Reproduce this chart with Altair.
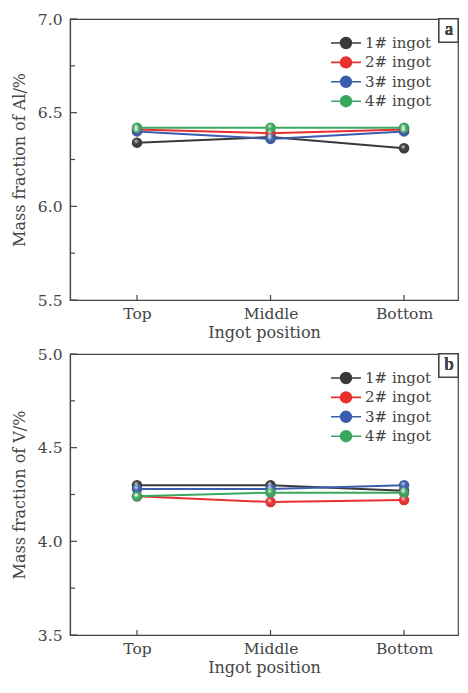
import altair as alt
import pandas as pd

positions = ["Top", "Middle", "Bottom"]
ingots = ["1# ingot", "2# ingot", "3# ingot", "4# ingot"]
colors = ["#3b3838", "#e8302e", "#3a5ead", "#39a85e"]

al_1 = [6.34, 6.37, 6.31]
al_2 = [6.41, 6.39, 6.41]
al_3 = [6.40, 6.36, 6.40]
al_4 = [6.42, 6.42, 6.42]

v_1 = [4.30, 4.30, 4.27]
v_2 = [4.24, 4.21, 4.22]
v_3 = [4.28, 4.28, 4.30]
v_4 = [4.24, 4.26, 4.26]

al_major = [5.5, 6.0, 6.5, 7.0]
al_minor = [5.75, 6.25, 6.75]
v_major = [3.5, 4.0, 4.5, 5.0]
v_minor = [3.75, 4.25, 4.75]

FONT = "DejaVu Serif"
TXT = "#454545"
W, H = 388, 281


def frame(series):
    rows = []
    for name, vals in zip(ingots, series):
        for p, v in zip(positions, vals):
            rows.append({"pos": p, "ingot": name, "val": v})
    return pd.DataFrame(rows)


legend_path = "M-1,0L1,0M-0.36,0A0.36,0.36,0,1,1,0.36,0A0.36,0.36,0,1,1,-0.36,0Z"

shine = alt.RadialGradient(
    gradient="radial", x1=0.38, y1=0.32, r1=0, x2=0.5, y2=0.5, r2=0.55,
    stops=[alt.GradientStop(color="rgba(255,255,255,0.85)", offset=0),
           alt.GradientStop(color="rgba(255,255,255,0)", offset=0.45),
           alt.GradientStop(color="rgba(0,0,0,0.18)", offset=1)])


def panel(df, major, minor, title, tag):
    lo, hi = major[0], major[-1]
    xs = alt.Scale(type="point", padding=0.453, align=0.554)
    ys = alt.Scale(domain=[lo, hi], nice=False, zero=False)
    xax = alt.Axis(title="Ingot position", labelAngle=0, ticks=False,
                   labelPadding=6, titlePadding=3)
    yax = alt.Axis(title=title, values=major, ticks=False, labelPadding=8,
                   format=".1f", titlePadding=10)
    x = alt.X("pos:N", sort=positions, scale=xs, axis=xax)
    y = alt.Y("val:Q", scale=ys, axis=yax)
    color = alt.Color("ingot:N", sort=ingots,
                      scale=alt.Scale(domain=ingots, range=colors),
                      legend=alt.Legend(title=None, orient="none", legendX=260, legendY=17,
                                        symbolType=legend_path, symbolSize=900,
                                        symbolStrokeWidth=1.6, clipHeight=14,
                                        rowPadding=4.4, labelOffset=3,
                                        labelFont=FONT, labelFontSize=15,
                                        labelColor=TXT))
    base = alt.Chart(df).encode(x=x, y=y, color=color)
    line = base.mark_line(strokeWidth=2)
    pts = base.mark_point(filled=True, size=110, opacity=1)
    gloss = alt.Chart(df).mark_point(filled=True, size=110, opacity=1, fill=shine).encode(x=x, y=y)

    ymaj = alt.Chart(pd.DataFrame({"val": major})).mark_rule(color=TXT, strokeWidth=1.2).encode(
        y=y, x=alt.value(0), x2=alt.value(7))
    ymin = alt.Chart(pd.DataFrame({"val": minor})).mark_rule(color=TXT, strokeWidth=1.2).encode(
        y=y, x=alt.value(0), x2=alt.value(5))
    xtk = alt.Chart(pd.DataFrame({"pos": positions})).mark_rule(color=TXT, strokeWidth=1.2).encode(
        x=x, y=alt.value(H), y2=alt.value(H - 5))

    box = alt.Chart(df).mark_rect(fill="white", stroke=TXT, strokeWidth=1.2).encode(
        x=alt.value(W - 19), x2=alt.value(W), y=alt.value(0), y2=alt.value(23))
    lab = alt.Chart(df).mark_text(font="Liberation Serif", fontSize=18, color=TXT, align="center",
                                  baseline="middle", fontWeight="normal").encode(
        x=alt.value(W - 9), y=alt.value(11), text=alt.value(tag))
    return alt.layer(line, pts, gloss, ymaj, ymin, xtk, box, lab).properties(width=W, height=H)


top = panel(frame([al_1, al_2, al_3, al_4]), al_major, al_minor, "Mass fraction of Al/%", "a")
bot = panel(frame([v_1, v_2, v_3, v_4]), v_major, v_minor, "Mass fraction of V/%", "b")

chart = alt.vconcat(top, bot, spacing=4).resolve_scale(color="independent").properties(
    padding={"left": 2, "top": 3, "right": 0, "bottom": 0}
).configure_view(stroke=TXT, strokeWidth=1.2).configure_axis(
    grid=False, domainColor=TXT, domainWidth=1.2,
    labelFont=FONT, labelFontSize=15.5, labelColor=TXT, titleFont=FONT,
    titleFontSize=16, titleColor=TXT, titleFontWeight="normal"
)

chart.save("out.html", embed_options={"renderer": "svg", "actions": False})
